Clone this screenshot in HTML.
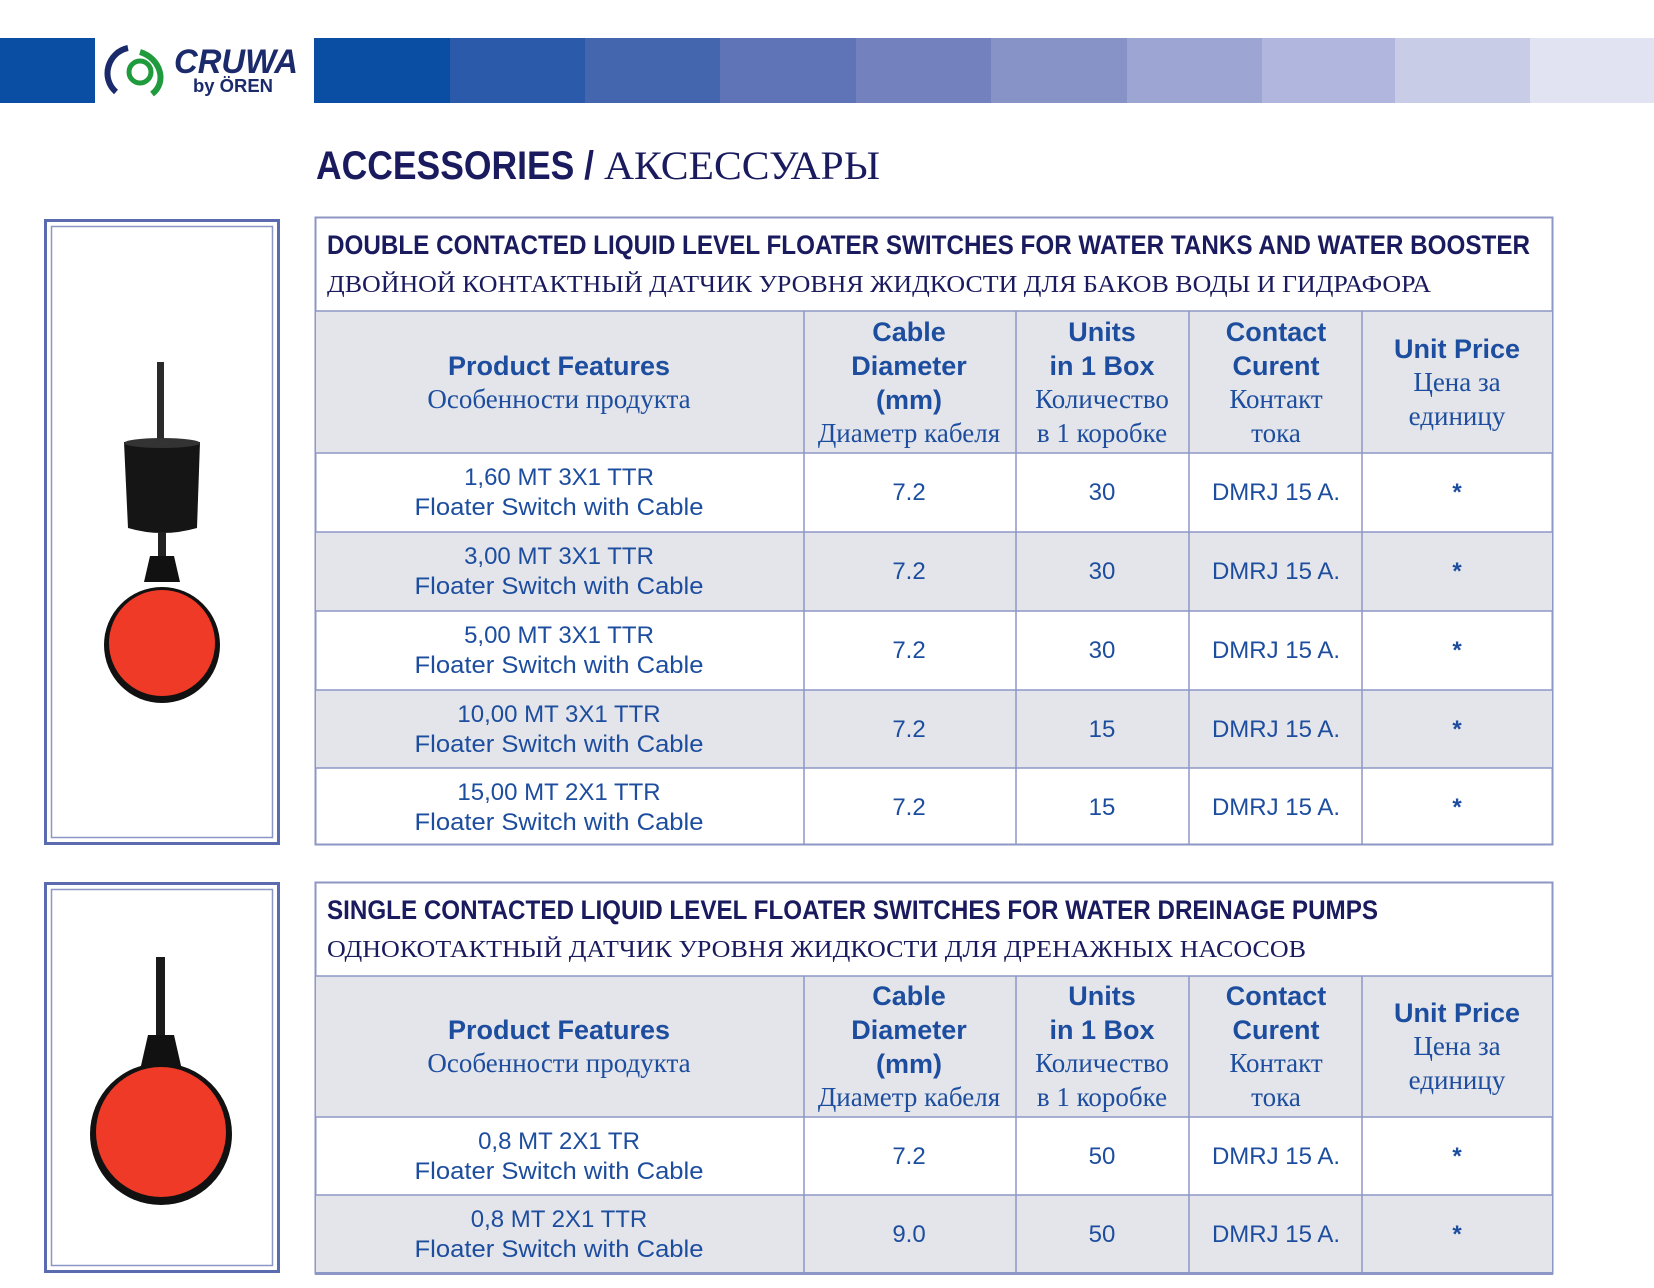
<!DOCTYPE html>
<html><head><meta charset="utf-8"><style>
html,body{margin:0;padding:0;background:#fff;}
svg{display:block}
.sb{font-family:"Liberation Sans",sans-serif;font-weight:bold;}
.s{font-family:"Liberation Sans",sans-serif;}
.sf{font-family:"Liberation Serif",serif;}
.hb{font-size:27px}
.hs{font-size:27px}
</style></head><body>
<svg width="1654" height="1288" viewBox="0 0 1654 1288" xmlns="http://www.w3.org/2000/svg">
<rect x="0" y="38" width="95" height="65" fill="#0a4ea3"/>
<rect x="314" y="38" width="136" height="65" fill="#0a4ea3"/>
<rect x="450" y="38" width="135" height="65" fill="#2b5aaa"/>
<rect x="585" y="38" width="135" height="65" fill="#4466af"/>
<rect x="720" y="38" width="136" height="65" fill="#5e74b7"/>
<rect x="856" y="38" width="135" height="65" fill="#7381be"/>
<rect x="991" y="38" width="136" height="65" fill="#8792c7"/>
<rect x="1127" y="38" width="135" height="65" fill="#9da5d3"/>
<rect x="1262" y="38" width="133" height="65" fill="#b0b6dd"/>
<rect x="1395" y="38" width="135" height="65" fill="#c8cce7"/>
<rect x="1530" y="38" width="124" height="65" fill="#e1e3f2"/>
<path d="M128 48 C108 52 100 78 116 92" stroke="#1b2a6b" stroke-width="6" fill="none"/>
<path d="M140 52 C160 58 168 82 152 94" stroke="#1f9a3c" stroke-width="6" fill="none"/>
<circle cx="140" cy="72" r="11" fill="none" stroke="#1f9a3c" stroke-width="5"/>
<text x="174" y="73" class="sb" font-size="34" font-style="italic" fill="#1b2a6b" textLength="124" lengthAdjust="spacingAndGlyphs">CRUWA</text>
<text x="193" y="92" class="sb" font-size="18" fill="#1b2a6b" textLength="80" lengthAdjust="spacingAndGlyphs">by ÖREN</text>
<text x="316" y="179" class="sb" font-size="40" fill="#1a1a5e" textLength="278" lengthAdjust="spacingAndGlyphs">ACCESSORIES /</text>
<text x="604" y="179" class="sf" font-size="40" fill="#1a1a5e" textLength="276" lengthAdjust="spacingAndGlyphs">АКСЕССУАРЫ</text>

<rect x="45.5" y="220.5" width="233" height="623" fill="#fff" stroke="#5a6bb0" stroke-width="3"/>
<rect x="51.5" y="226.5" width="221" height="611" fill="none" stroke="#8d97c6" stroke-width="1.5"/>
<rect x="157" y="362" width="7" height="82" fill="#2a2a2a"/>
<path d="M124 442 L200 442 L197 528 Q162 538 128 528 Z" fill="#151515"/>
<ellipse cx="162" cy="443" rx="38" ry="5" fill="#333"/>
<rect x="158" y="532" width="8" height="24" fill="#222"/>
<path d="M150 556 L174 556 L180 582 L144 582 Z" fill="#111"/>
<circle cx="162" cy="645" r="58" fill="#111"/>
<circle cx="162" cy="643" r="53" fill="#ee3a26"/>
<rect x="45.5" y="883.5" width="233" height="388" fill="#fff" stroke="#5a6bb0" stroke-width="3"/>
<rect x="51.5" y="889.5" width="221" height="376" fill="none" stroke="#8d97c6" stroke-width="1.5"/>
<rect x="156" y="957" width="9" height="80" fill="#1a1a1a"/>
<path d="M148 1035 L174 1035 L182 1070 L140 1070 Z" fill="#111"/>
<circle cx="161" cy="1134" r="71" fill="#111"/>
<circle cx="161" cy="1132" r="65" fill="#ee3a26"/>

<rect x="315.5" y="217.5" width="1237" height="627" fill="#fff" stroke="#8d97c6" stroke-width="2"/>
<rect x="316" y="311" width="1236" height="142" fill="#e3e5ea"/>
<rect x="316" y="532" width="1236" height="79" fill="#e3e5ea"/>
<rect x="316" y="690" width="1236" height="78" fill="#e3e5ea"/>
<g stroke="#8d97c6" stroke-width="1.5">
<line x1="315" y1="311" x2="1553" y2="311"/>
<line x1="315" y1="453" x2="1553" y2="453"/>
<line x1="315" y1="532" x2="1553" y2="532"/>
<line x1="315" y1="611" x2="1553" y2="611"/>
<line x1="315" y1="690" x2="1553" y2="690"/>
<line x1="315" y1="768" x2="1553" y2="768"/>
<line x1="804" y1="311" x2="804" y2="845"/>
<line x1="1016" y1="311" x2="1016" y2="845"/>
<line x1="1189" y1="311" x2="1189" y2="845"/>
<line x1="1362" y1="311" x2="1362" y2="845"/>
</g>
<text x="327" y="254" class="sb" font-size="27" fill="#1a1a5e" textLength="1203" lengthAdjust="spacingAndGlyphs">DOUBLE CONTACTED LIQUID LEVEL FLOATER SWITCHES FOR WATER TANKS AND WATER BOOSTER</text>
<text x="327" y="292" class="sf" font-size="24" fill="#1a1a5e" textLength="1104" lengthAdjust="spacingAndGlyphs">ДВОЙНОЙ КОНТАКТНЫЙ ДАТЧИК УРОВНЯ ЖИДКОСТИ ДЛЯ БАКОВ ВОДЫ И ГИДРАФОРА</text>
<g fill="#1d4d9e" text-anchor="middle">
<text x="559" y="375" class="sb hb">Product Features</text>
<text x="559" y="408" class="sf hs">Особенности продукта</text>
<text x="909" y="341" class="sb hb">Cable</text>
<text x="909" y="375" class="sb hb">Diameter</text>
<text x="909" y="409" class="sb hb">(mm)</text>
<text x="909" y="442" class="sf hs">Диаметр кабеля</text>
<text x="1102" y="341" class="sb hb">Units</text>
<text x="1102" y="375" class="sb hb">in 1 Box</text>
<text x="1102" y="408" class="sf hs">Количество</text>
<text x="1102" y="442" class="sf hs">в 1 коробке</text>
<text x="1276" y="341" class="sb hb">Contact</text>
<text x="1276" y="375" class="sb hb">Curent</text>
<text x="1276" y="408" class="sf hs">Контакт</text>
<text x="1276" y="442" class="sf hs">тока</text>
<text x="1457" y="358" class="sb hb">Unit Price</text>
<text x="1457" y="391" class="sf hs">Цена за</text>
<text x="1457" y="425" class="sf hs">единицу</text>
</g>
<g fill="#1d4d9e" text-anchor="middle" class="s" font-size="24">
<text x="559" y="485">1,60 MT 3X1 TTR</text><text x="559" y="515" textLength="289" lengthAdjust="spacingAndGlyphs">Floater Switch with Cable</text>
<text x="909" y="500">7.2</text><text x="1102" y="500">30</text><text x="1276" y="500">DMRJ 15 A.</text><text x="1457" y="500" class="sb">*</text>
<text x="559" y="564">3,00 MT 3X1 TTR</text><text x="559" y="594" textLength="289" lengthAdjust="spacingAndGlyphs">Floater Switch with Cable</text>
<text x="909" y="579">7.2</text><text x="1102" y="579">30</text><text x="1276" y="579">DMRJ 15 A.</text><text x="1457" y="579" class="sb">*</text>
<text x="559" y="643">5,00 MT 3X1 TTR</text><text x="559" y="673" textLength="289" lengthAdjust="spacingAndGlyphs">Floater Switch with Cable</text>
<text x="909" y="658">7.2</text><text x="1102" y="658">30</text><text x="1276" y="658">DMRJ 15 A.</text><text x="1457" y="658" class="sb">*</text>
<text x="559" y="722">10,00 MT 3X1 TTR</text><text x="559" y="752" textLength="289" lengthAdjust="spacingAndGlyphs">Floater Switch with Cable</text>
<text x="909" y="737">7.2</text><text x="1102" y="737">15</text><text x="1276" y="737">DMRJ 15 A.</text><text x="1457" y="737" class="sb">*</text>
<text x="559" y="800">15,00 MT 2X1 TTR</text><text x="559" y="830" textLength="289" lengthAdjust="spacingAndGlyphs">Floater Switch with Cable</text>
<text x="909" y="815">7.2</text><text x="1102" y="815">15</text><text x="1276" y="815">DMRJ 15 A.</text><text x="1457" y="815" class="sb">*</text>
</g>

<rect x="315.5" y="882.5" width="1237" height="391" fill="#fff" stroke="#8d97c6" stroke-width="2"/>
<rect x="316" y="976" width="1236" height="141" fill="#e3e5ea"/>
<rect x="316" y="1195" width="1236" height="78" fill="#e3e5ea"/>
<g stroke="#8d97c6" stroke-width="1.5">
<line x1="315" y1="976" x2="1553" y2="976"/>
<line x1="315" y1="1117" x2="1553" y2="1117"/>
<line x1="315" y1="1195" x2="1553" y2="1195"/>
<line x1="804" y1="976" x2="804" y2="1274"/>
<line x1="1016" y1="976" x2="1016" y2="1274"/>
<line x1="1189" y1="976" x2="1189" y2="1274"/>
<line x1="1362" y1="976" x2="1362" y2="1274"/>
</g>
<line x1="315" y1="1273.5" x2="1553" y2="1273.5" stroke="#8d97c6" stroke-width="3"/>
<text x="327" y="919" class="sb" font-size="27" fill="#1a1a5e" textLength="1051" lengthAdjust="spacingAndGlyphs">SINGLE CONTACTED LIQUID LEVEL FLOATER SWITCHES FOR WATER DREINAGE PUMPS</text>
<text x="327" y="957" class="sf" font-size="24" fill="#1a1a5e" textLength="979" lengthAdjust="spacingAndGlyphs">ОДНОКОТАКТНЫЙ ДАТЧИК УРОВНЯ ЖИДКОСТИ ДЛЯ ДРЕНАЖНЫХ НАСОСОВ</text>
<g fill="#1d4d9e" text-anchor="middle">
<text x="559" y="1039" class="sb hb">Product Features</text>
<text x="559" y="1072" class="sf hs">Особенности продукта</text>
<text x="909" y="1005" class="sb hb">Cable</text>
<text x="909" y="1039" class="sb hb">Diameter</text>
<text x="909" y="1073" class="sb hb">(mm)</text>
<text x="909" y="1106" class="sf hs">Диаметр кабеля</text>
<text x="1102" y="1005" class="sb hb">Units</text>
<text x="1102" y="1039" class="sb hb">in 1 Box</text>
<text x="1102" y="1072" class="sf hs">Количество</text>
<text x="1102" y="1106" class="sf hs">в 1 коробке</text>
<text x="1276" y="1005" class="sb hb">Contact</text>
<text x="1276" y="1039" class="sb hb">Curent</text>
<text x="1276" y="1072" class="sf hs">Контакт</text>
<text x="1276" y="1106" class="sf hs">тока</text>
<text x="1457" y="1022" class="sb hb">Unit Price</text>
<text x="1457" y="1055" class="sf hs">Цена за</text>
<text x="1457" y="1089" class="sf hs">единицу</text>
</g>
<g fill="#1d4d9e" text-anchor="middle" class="s" font-size="24">
<text x="559" y="1149">0,8 MT 2X1 TR</text><text x="559" y="1179" textLength="289" lengthAdjust="spacingAndGlyphs">Floater Switch with Cable</text>
<text x="909" y="1164">7.2</text><text x="1102" y="1164">50</text><text x="1276" y="1164">DMRJ 15 A.</text><text x="1457" y="1164" class="sb">*</text>
<text x="559" y="1227">0,8 MT 2X1 TTR</text><text x="559" y="1257" textLength="289" lengthAdjust="spacingAndGlyphs">Floater Switch with Cable</text>
<text x="909" y="1242">9.0</text><text x="1102" y="1242">50</text><text x="1276" y="1242">DMRJ 15 A.</text><text x="1457" y="1242" class="sb">*</text>
</g>
</svg>
</body></html>
